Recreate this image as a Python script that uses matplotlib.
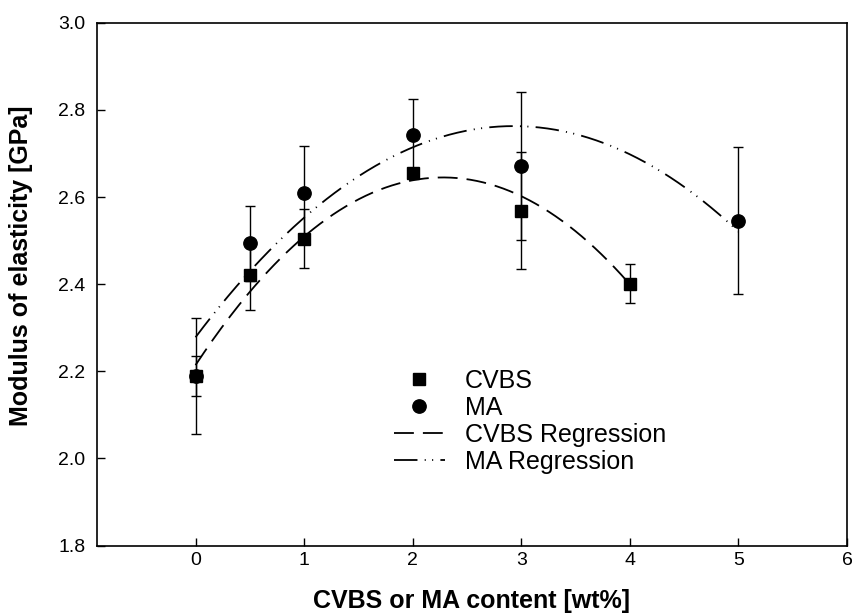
import matplotlib
matplotlib.use("Agg")
import matplotlib.pyplot as plt
from matplotlib.lines import Line2D
import numpy as np

plt.rcParams['font.family'] = ['Liberation Sans', 'DejaVu Sans']

# Measured moduli (GPa) with standard deviations
x_cvbs = [0, 0.5, 1, 2, 3, 4]
y_cvbs = [2.189, 2.420, 2.504, 2.654, 2.569, 2.401]
e_cvbs = [0.045, 0.079, 0.068, 0.010, 0.134, 0.045]

x_ma = [0, 0.5, 1, 2, 3, 5]
y_ma = [2.189, 2.494, 2.609, 2.743, 2.672, 2.546]
e_ma = [0.133, 0.086, 0.108, 0.082, 0.170, 0.169]

# Quadratic regression coefficients (constant, linear, quadratic)
fit_cvbs = [2.214, 0.378, -0.0829]
fit_ma = [2.278, 0.331, -0.0565]

x_ticks = [0, 1, 2, 3, 4, 5, 6]
y_ticks = [1.8, 2.0, 2.2, 2.4, 2.6, 2.8, 3.0]

fig = plt.figure(figsize=(8.52, 6.15), dpi=100)
ax = fig.add_axes([0.1135, 0.113, 0.8806, 0.850])

cvbs_dash = (11, 5)
ma_dash = (13, 4, 0.6, 3.5, 0.6, 4)

# Regression curves
xc = np.linspace(min(x_cvbs), max(x_cvbs), 200)
xm = np.linspace(min(x_ma), max(x_ma), 200)
ax.plot(xc, np.polyval(fit_cvbs[::-1], xc), color='black', lw=1.3, dashes=cvbs_dash, zorder=2)
ax.plot(xm, np.polyval(fit_ma[::-1], xm), color='black', lw=1.3, dashes=ma_dash, zorder=2)

# Data with error bars
ax.errorbar(x_ma, y_ma, yerr=e_ma, fmt='o', color='black', ms=9.6, ecolor='black',
            elinewidth=1.0, capsize=3.8, capthick=1.0, zorder=3)
ax.errorbar(x_cvbs, y_cvbs, yerr=e_cvbs, fmt='s', color='black', ms=8.3, ecolor='black',
            elinewidth=1.0, capsize=3.8, capthick=1.0, zorder=4)

ax.set_xlim(-0.91, 6)
ax.set_ylim(1.8, 3.0)
ax.set_xticks(x_ticks)
ax.set_yticks(y_ticks)
ax.set_xticklabels([str(t) for t in x_ticks])
ax.set_yticklabels([f"{t:.1f}" for t in y_ticks])
ax.tick_params(direction='in', length=6, width=1.0, labelsize=14, top=False, right=False)
ax.tick_params(axis='x', pad=5)
ax.tick_params(axis='y', pad=8)
for s in ax.spines.values():
    s.set_linewidth(1.2)

ax.set_xlabel('CVBS or MA content [wt%]', fontsize=18, fontweight='bold')
ax.set_ylabel('Modulus of elasticity [GPa]', fontsize=18, fontweight='bold')
ax.xaxis.set_label_coords(0.5, -0.083)
ax.yaxis.set_label_coords(-0.085, 0.536)

handles = [
    Line2D([], [], ls='none', marker='s', ms=8.3, color='black'),
    Line2D([], [], ls='none', marker='o', ms=9.6, color='black'),
    Line2D([], [], color='black', lw=1.3, dashes=cvbs_dash),
    Line2D([], [], color='black', lw=1.3, dashes=ma_dash),
]
labels = ['CVBS', 'MA', 'CVBS Regression', 'MA Regression']
ax.legend(handles, labels, loc='upper left', bbox_to_anchor=(0.396, 0.338), frameon=False,
          fontsize=18, handlelength=2.05, handletextpad=0.8, labelspacing=0.12,
          borderpad=0.0, borderaxespad=0.0)

fig.savefig('out.png', dpi=100)
